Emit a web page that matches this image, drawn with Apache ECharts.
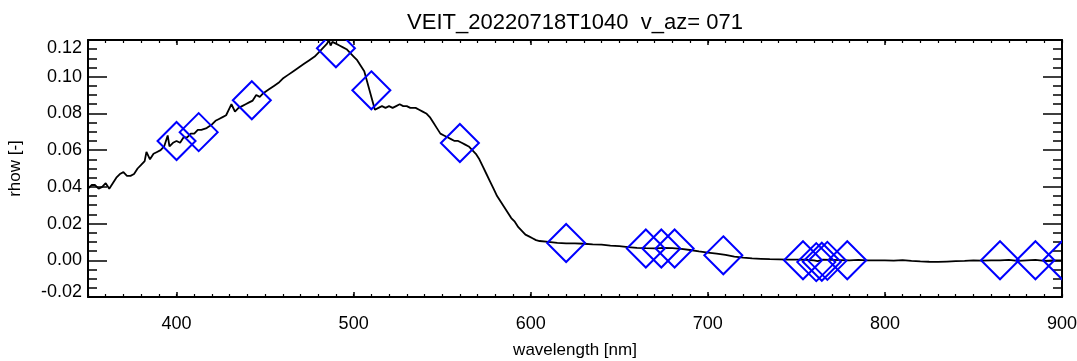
<!DOCTYPE html>
<html>
<head>
<meta charset="utf-8">
<script src="https://cdn.jsdelivr.net/npm/echarts@6/dist/echarts.min.js"></script>
<style>
html,body{margin:0;padding:0;background:#fff;}
#c{width:1077px;height:361px;}
</style>
</head>
<body>
<div id="c"></div>
<script>
const titleText = 'VEIT_20220718T1040  v_az= 071';
const xName = 'wavelength [nm]';
const yName = 'rhow [-]';
const xMajorTicks = [400, 500, 600, 700, 800, 900];

const specWl = [350,352,354,356,358,360,362,364,366,368,370,372,374,376,378,380,382,383,385,387,389,391,393,395,396,398,400,402,404,406,408,410,412,414,417,420,422,424,426,428,430,431,433,435,437,439,441,443,445,447,449,452,455,458,460,463,466,469,472,475,478,481,483,485,486,487,488,490,492,494,496,498,500,502,504,506,507,512,514,516,518,520,522,524,526,528,530,532,535,537,539,541,543,545,547,549,551,553,555,557,559,561,563,565,567,569,571,573,575,577,579,581,583,585,587,589,591,593,595,597,599,601,603,605,610,615,620,625,630,635,640,645,650,655,660,665,670,675,680,685,690,695,700,705,710,715,720,725,730,735,740,745,750,755,760,762,765,770,775,780,785,790,795,800,805,810,815,820,825,830,835,840,845,850,855,860,865,870,875,880,885,890,895,900];
const specRhow = [0.039,0.041,0.041,0.039,0.040,0.042,0.039,0.042,0.045,0.047,0.048,0.046,0.046,0.047,0.050,0.052,0.054,0.059,0.055,0.058,0.059,0.060,0.062,0.068,0.062,0.064,0.065,0.064,0.067,0.067,0.069,0.069,0.071,0.071,0.072,0.074,0.076,0.077,0.078,0.079,0.083,0.085,0.081,0.083,0.084,0.085,0.086,0.087,0.090,0.089,0.091,0.093,0.095,0.097,0.099,0.101,0.103,0.105,0.107,0.109,0.111,0.114,0.116,0.118,0.120,0.117,0.119,0.118,0.117,0.116,0.115,0.113,0.111,0.109,0.106,0.103,0.102,0.082,0.083,0.084,0.083,0.084,0.083,0.084,0.085,0.084,0.084,0.083,0.083,0.082,0.081,0.080,0.078,0.075,0.072,0.069,0.068,0.067,0.066,0.065,0.065,0.064,0.063,0.062,0.060,0.058,0.055,0.051,0.047,0.043,0.039,0.035,0.032,0.029,0.026,0.023,0.021,0.018,0.016,0.014,0.013,0.012,0.011,0.0105,0.010,0.0095,0.0092,0.0092,0.009,0.0087,0.0085,0.008,0.0077,0.0072,0.0068,0.0066,0.0065,0.0068,0.0066,0.0062,0.0056,0.0048,0.0042,0.0036,0.003,0.002,0.0014,0.001,0.0008,0.0006,0.0005,0.0004,0.0004,0.0003,0.0,-0.0005,0.0003,0.0002,0.0001,0.0,0.0002,0.0,-0.0001,0.0,-0.0002,0.0001,-0.0003,-0.0006,-0.0008,-0.0009,-0.0007,-0.0005,-0.0003,0.0,-0.0002,0.0,-0.0001,0.0002,-0.0003,0.0,0.0002,-0.0003,0.0,-0.0001];

const bandWl = [400,412.5,442.5,490,510,560,620,665,673.75,681.25,708.75,753.75,761.25,764.375,767.5,778.75,865,885,900];
const bandRhow = [0.065,0.0698,0.0872,0.1155,0.0926,0.0639,0.0094,0.0064,0.0064,0.0064,0.0027,0.0,-0.001,-0.0008,-0.0003,0.0,0.0,0.0,0.0];

const FONT = 'Liberation Sans';
const lineSeries = specWl.map((w, i) => [w, specRhow[i]]);
const bandSeries = bandWl.map((w, i) => [w, bandRhow[i]]);

const black = '#000';
function xAx(pos, major, opts) {
  return Object.assign({
    type: 'value', position: pos, min: 350, max: 900,
    axisLine: { show: major, onZero: false, lineStyle: { color: black, width: 2 } },
    splitLine: { show: false },
    axisLabel: { show: false },
    axisTick: major
      ? { show: true, inside: true, length: 5, customValues: xMajorTicks, lineStyle: { color: black, width: 1.5 } }
      : { show: true, inside: true, length: 3, lineStyle: { color: black, width: 1.2 } }
  }, major ? {} : { interval: 10 }, opts || {});
}
function yAx(pos, major, opts) {
  return Object.assign({
    type: 'value', position: pos, min: -0.02, max: 0.12,
    interval: major ? 0.02 : 0.005,
    axisLine: { show: major, onZero: false, lineStyle: { color: black, width: 2 } },
    splitLine: { show: false },
    axisLabel: { show: false },
    axisTick: { show: true, inside: true, length: major ? 19 : 9, lineStyle: { color: black, width: 1.5 } }
  }, opts || {});
}

const chart = echarts.init(document.getElementById('c'), null, { renderer: 'canvas' });
chart.setOption({
  animation: false,
  backgroundColor: '#fff',
  title: {
    text: titleText, left: 575, top: 12, textAlign: 'center', padding: 0,
    textStyle: { fontFamily: FONT, fontSize: 22, fontWeight: 'normal', color: black }
  },
  grid: { left: 88, right: 15, top: 40, bottom: 64, containLabel: false, outerBoundsMode: 'none' },
  xAxis: [
    xAx('bottom', true, {
      axisLabel: { show: true, customValues: xMajorTicks, fontFamily: FONT, fontSize: 18, color: black, margin: 18 },
      name: xName, nameLocation: 'middle', nameGap: 45,
      nameTextStyle: { fontFamily: FONT, fontSize: 17, color: black }
    }),
    xAx('bottom', false),
    xAx('top', true),
    xAx('top', false)
  ],
  yAxis: [
    yAx('left', true, {
      axisLabel: {
        show: true, fontFamily: FONT, fontSize: 18, lineHeight: 16, color: black, margin: 6,
        formatter: v => (v < -0.015 ? '{m|' + v.toFixed(2) + '}' : v.toFixed(2)),
        rich: { m: { fontFamily: FONT, fontSize: 18, lineHeight: 10, color: black } },
        verticalAlignMaxLabel: 'top', verticalAlignMinLabel: 'bottom'
      },
      name: yName, nameLocation: 'middle', nameGap: 64, nameRotate: 90,
      nameTextStyle: { fontFamily: FONT, fontSize: 17, color: black }
    }),
    yAx('left', false),
    yAx('right', true),
    yAx('right', false)
  ],
  series: [
    {
      type: 'line', xAxisIndex: 0, yAxisIndex: 0, data: lineSeries,
      showSymbol: false, symbol: 'none', clip: true,
      lineStyle: { color: black, width: 1.8 }, z: 3
    },
    {
      type: 'custom', xAxisIndex: 0, yAxisIndex: 0, data: bandSeries, clip: true,
      encode: { x: 0, y: 1 }, z: 4,
      renderItem: function (params, api) {
        const p = api.coord([api.value(0), api.value(1)]);
        const r = 19;
        return {
          type: 'polygon',
          shape: { points: [[p[0], p[1] - r], [p[0] + r, p[1]], [p[0], p[1] + r], [p[0] - r, p[1]]] },
          style: { fill: 'none', stroke: '#0000ff', lineWidth: 2 }
        };
      }
    }
  ]
});
</script>
</body>
</html>
